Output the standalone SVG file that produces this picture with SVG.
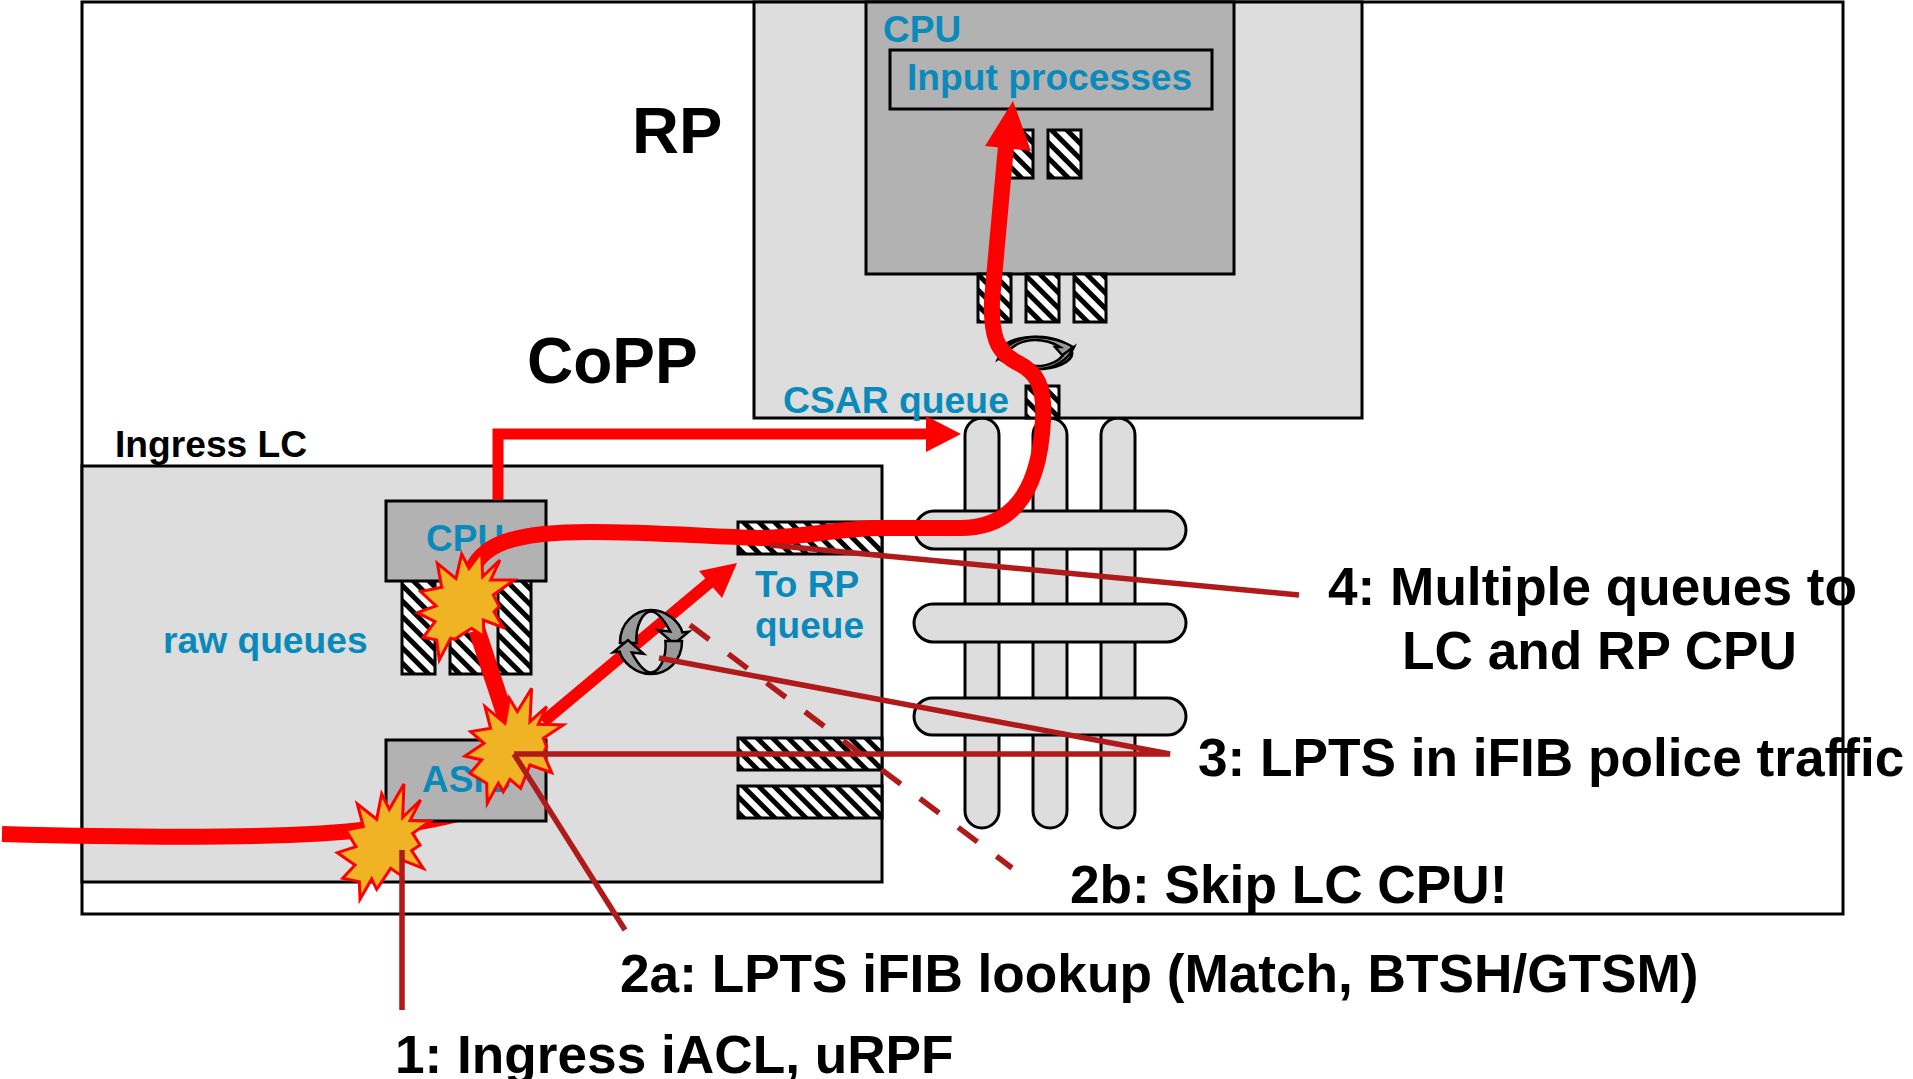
<svg xmlns="http://www.w3.org/2000/svg" width="1913" height="1079" viewBox="0 0 1913 1079">
<style>
text{font-family:"Liberation Sans",Arial,sans-serif;font-weight:700}
.blue{fill:#0A8ABB;font-size:37px}
.lab{fill:#000;font-size:53.200px}
.big{fill:#000;font-size:64px}
.lt{fill:#DDD;stroke:#000;stroke-width:3}
.dk{fill:#B2B2B2;stroke:#000;stroke-width:3}
.q{fill:url(#h);stroke:#000;stroke-width:3}
.red{fill:none;stroke:#F00;stroke-width:16;stroke-linecap:butt}
.tip{fill:#F00}
.call{fill:none;stroke:#B01A1A;stroke-width:5.500}
.star{fill:#F0B323;stroke:#F00;stroke-width:9;stroke-linejoin:miter}
.ic{stroke:#000;stroke-width:2.500;vector-effect:non-scaling-stroke}
</style>
<defs>
<pattern id="h" width="11" height="11" patternUnits="userSpaceOnUse" patternTransform="rotate(-45)">
<rect width="11" height="11" fill="#fff"/><rect width="5" height="11" fill="#000"/>
</pattern>
<polygon id="s1" points="222,912 218,1012 272,960 240,1022 300,1024 248,1060 270,1095 245,1112 280,1165 215,1140 218,1190 182,1165 140,1228 125,1197 90,1258 88,1205 38,1195 75,1155 22,1118 78,1100 48,1050 100,1040 82,972 140,1018 155,942 178,988"/>
<polygon id="s2" points="395,222 417,265 455,215 458,290 510,240 482,300 552,300 490,345 508,380 492,395 520,443 460,420 462,470 425,445 398,462 375,478 362,475 328,540 320,480 280,472 315,425 262,398 318,378 272,335 335,322 322,250 378,296"/>
<polygon id="s3" points="605,625 600,725 650,680 625,733 700,735 640,775 650,800 640,820 665,878 600,855 572,925 540,898 520,935 505,910 472,970 470,910 420,880 455,840 405,828 462,790 422,755 482,745 465,680 525,730 538,655 562,695"/>
<g id="cyc">
<path class="ic" fill="#999" d="M-.97,.03C-.97,-.6-.5,-1 0,-1C.5,-1 .9,-.6 .98,-.3L1.18,-.32L.72,.06L.23,-.37L.6,-.33C.4,-.7 .2,-.95 0,-.95C-.25,-.95-.5,-.5-.45,.03Z"/>
<path class="ic" fill="#999" transform="rotate(180)" d="M-.97,.03C-.97,-.6-.5,-1 0,-1C.5,-1 .9,-.6 .98,-.3L1.18,-.32L.72,.06L.23,-.37L.6,-.33C.4,-.7 .2,-.95 0,-.95C-.25,-.95-.5,-.5-.45,.03Z"/>
</g>
<path id="thin" class="ic" fill="#999" d="M998,359C1004,345 1020,337 1035,337C1050,337 1065,342 1073,347L1063,356L1055,347L1060,347C1052,342 1045,340 1035,340C1022,340 1012,346 1008,352Z"/>
</defs>
<rect width="1913" height="1079" fill="#fff"/>
<rect id="chassis" x="82" y="2" width="1761" height="912" fill="#fff" stroke="#000" stroke-width="3"/>
<g id="fabric">
<rect class="lt" x="965" y="418" width="34" height="410" rx="17"/>
<rect class="lt" x="1033" y="418" width="34" height="410" rx="17"/>
<rect class="lt" x="1101" y="418" width="34" height="410" rx="17"/>
<rect class="lt" x="915" y="511" width="271" height="38" rx="19"/>
<rect class="lt" x="914" y="604" width="272" height="38" rx="19"/>
<rect class="lt" x="914" y="698" width="272" height="37" rx="18.500"/>
</g>
<g id="rp">
<rect class="lt" x="754" y="2" width="608" height="416"/>
<rect class="dk" x="866" y="2" width="368" height="272"/>
<rect x="890" y="50" width="322" height="59" fill="#B2B2B2" stroke="#000" stroke-width="3"/>
<text class="blue" x="883" y="42">CPU</text>
<text class="blue" x="907" y="90" style="font-size:37.200px">Input processes</text>
<rect class="q" x="1000" y="130" width="33" height="48"/>
<rect class="q" x="1048" y="130" width="33" height="48"/>
<rect class="q" x="978" y="274" width="33" height="48"/>
<rect class="q" x="1026" y="274" width="33" height="48"/>
<rect class="q" x="1074" y="274" width="32" height="48"/>
<rect class="q" x="1026" y="386" width="33" height="32"/>
<text class="blue" x="783" y="413" style="font-size:37.300px">CSAR queue</text>
<text class="big" x="632" y="153" style="font-size:65px">RP</text>
<text class="big" x="527" y="383">CoPP</text>
</g>
<g id="lc">
<rect class="lt" x="82" y="466" width="800" height="416"/>
<rect class="q" x="402" y="578" width="33" height="96"/>
<rect class="q" x="450" y="578" width="33" height="96"/>
<rect class="q" x="498" y="578" width="33" height="96"/>
<rect class="q" x="738" y="522" width="144" height="32"/>
<rect class="q" x="738" y="738" width="144" height="32"/>
<rect class="q" x="738" y="786" width="144" height="32"/>
<text style="font-size:37.200px" x="115" y="457">Ingress LC</text>
<text class="blue" x="163" y="653" style="font-size:37.200px">raw queues</text>
<text class="blue" x="755" y="597">To RP</text>
<text class="blue" x="755" y="638">queue</text>
</g>
<g id="connectors">
<path class="red" d="M2,834C150,838 300,838 370,829C400,826 430,821 462,813L490,803"/>
<path id="asic-box" class="dk" d="M386,740H546V821H386Z"/>
<text class="blue" x="422" y="792">ASIC</text>
<path id="cpu-box" class="dk" d="M386,501H546V581H386Z"/>
<text class="blue" x="426" y="551">CPU</text>
<path class="red" d="M498,500V434H930" style="stroke-width:11"/>
<polygon class="tip" points="961,434 926,416 926,452"/>
<path class="red" d="M510,730L477,630" style="stroke-width:17"/>
<ellipse cx="1036" cy="353" rx="36" ry="16" fill="none" stroke="#000" stroke-width="3"/>
<use href="#thin"/>
<use href="#thin" transform="rotate(180 1036 353)"/>
<path class="red" d="M470,575C480,545 510,532 590,532C650,532 700,536 760,538C800,538 840,528 880,528L960,528C1020,528 1040,480 1043,420C1045,385 1036,372 1018,363C996,352 991,335 992,300L1006,146"/>
<polygon class="tip" points="1013,101 985,146 1031,151"/>
<path class="red" d="M543,722L715,578" style="stroke-width:12"/>
<polygon class="tip" points="737,563 699,571 722,598"/>
<use href="#cyc" transform="translate(651 642) scale(32)"/>
<use href="#s1" transform="translate(330 480) scale(.3333)" class="star"/>
<use href="#s2" transform="translate(330 480) scale(.3333)" class="star"/>
<use href="#s3" transform="translate(330 480) scale(.3333)" class="star"/>
<path class="call" d="M402,850V1010"/>
<path class="call" d="M514,754L625,930"/>
<path class="call" d="M514,754H1170L659,658"/>
<path class="call" d="M690,625L1012,868" stroke-dasharray="24 24"/>
<path class="call" d="M770,545L1299,595"/>
</g>
<g id="labels">
<text class="lab" x="1328" y="605">4: Multiple queues to</text>
<text class="lab" x="1402" y="669">LC and RP CPU</text>
<text class="lab" x="1198" y="776">3: LPTS in iFIB police traffic</text>
<text class="lab" x="1070" y="903">2b: Skip LC CPU!</text>
<text class="lab" x="620" y="992">2a: LPTS iFIB lookup (Match, BTSH/GTSM)</text>
<text class="lab" x="395" y="1073">1: Ingress iACL, uRPF</text>
</g>
</svg>
